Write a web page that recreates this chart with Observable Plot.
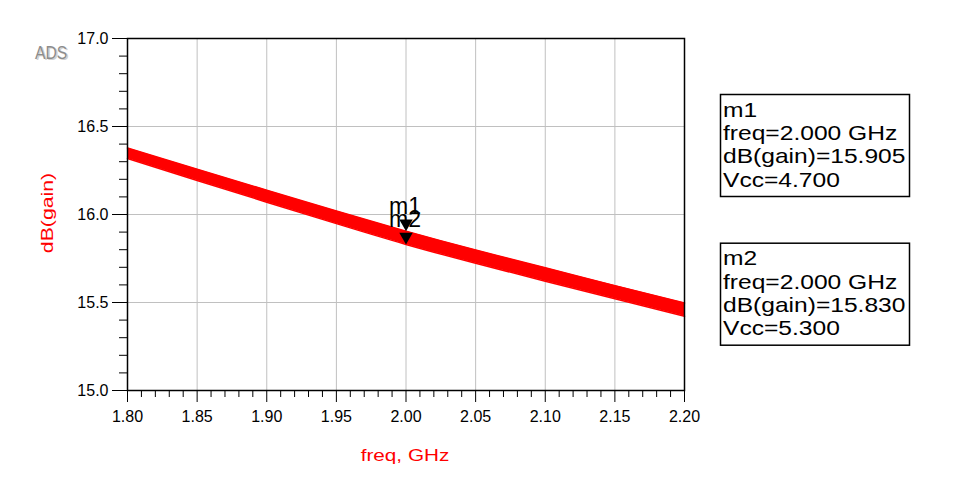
<!DOCTYPE html>
<html><head><meta charset="utf-8">
<script src="https://cdn.jsdelivr.net/npm/d3@7"></script>
<script src="https://cdn.jsdelivr.net/npm/@observablehq/plot@0.6"></script>
<style>body{margin:0;background:#fff}#chart svg{display:block}</style>
</head><body><div id="chart"></div>
<script>
// ---- data ----
const freqs      = [1.80, 1.85, 1.90, 1.95, 2.00, 2.05, 2.10, 2.15, 2.20];
const gainVcc47  = [16.378, 16.257, 16.138, 16.020, 15.905, 15.798, 15.697, 15.596, 15.497];
const gainVcc53  = [16.318, 16.193, 16.070, 15.948, 15.830, 15.723, 15.621, 15.521, 15.422];
const xMajorTicks = [1.80, 1.85, 1.90, 1.95, 2.00, 2.05, 2.10, 2.15, 2.20];
const yMajorTicks = [15.0, 15.5, 16.0, 16.5, 17.0];
const markerNames = ["m1", "m2"];
const markerFreq  = [2.000, 2.000];
const markerGain  = [15.905, 15.830];
const markerVcc   = [4.700, 5.300];

const band = freqs.map((f, i) => ({freq: f, top: gainVcc47[i], bottom: gainVcc53[i]}));
const markers = markerNames.map((n, i) => ({name: n, freq: markerFreq[i], gain: markerGain[i], vcc: markerVcc[i]}));
const xMinor = d3.range(180, 221).filter(v => v % 5 !== 0).map(v => v / 100);
const yMinor = d3.range(150, 171).filter(v => v % 5 !== 0).map(v => v / 10);

const FONT = "'Liberation Sans', Arial, sans-serif";
const RED = "#ff0000";

const chart = Plot.plot({
  width: 962, height: 488,
  marginLeft: 127, marginRight: 278, marginTop: 38, marginBottom: 98,
  style: {fontFamily: FONT, color: "#000", background: "#fff"},
  x: {domain: [1.8, 2.2], label: null},
  y: {domain: [15, 17], label: null},
  marks: [
    Plot.gridX(xMajorTicks, {stroke: "#c0c0c0", strokeOpacity: 1}),
    Plot.gridY(yMajorTicks, {stroke: "#c0c0c0", strokeOpacity: 1}),
    Plot.areaY(band, {x: "freq", y1: "bottom", y2: "top", fill: RED, curve: "natural"}),
    Plot.line(band, {x: "freq", y: "top", stroke: RED, strokeWidth: 1.5, curve: "natural"}),
    Plot.line(band, {x: "freq", y: "bottom", stroke: RED, strokeWidth: 1.5, curve: "natural"}),
    Plot.frame({stroke: "#000", strokeWidth: 1.5}),
    Plot.axisX(xMajorTicks, {tickSize: 12, tickPadding: 8, tickFormat: d3.format(".2f"), label: null, fontSize: 16}),
    Plot.axisX(xMinor, {tickSize: 7, tickFormat: () => "", label: null}),
    Plot.axisY(yMajorTicks, {tickSize: 15, tickPadding: 4, tickFormat: d3.format(".1f"), label: null, fontSize: 16}),
    Plot.axisY(yMinor, {tickSize: 8, tickFormat: () => "", label: null}),
    Plot.dot(markers, {x: "freq", y: "gain", symbol: "triangle", r: 5, fill: "#000", stroke: null, rotate: 180, dy: -7.8}),
    Plot.text(markers, {x: "freq", y: "gain", text: "name", textAnchor: "start", lineAnchor: "bottom",
      dx: -17, dy: -17, fontSize: 23, fill: "#000"})
  ]
});
document.getElementById("chart").appendChild(chart);

const svg = d3.select(chart);
svg.selectAll('g[aria-label="x-axis tick label"] text, g[aria-label="y-axis tick label"] text')
  .style("font-size", "16px");
svg.selectAll('g[aria-label="text"] text').style("font-size", "23px");

// ---- annotations: ADS logo, axis labels, marker readouts ----
const g = svg.append("g").attr("font-family", FONT).attr("text-anchor", "start");

g.append("text").attr("transform", "translate(36.5,59.5) scale(0.87,1)")
  .attr("font-size", 18).attr("fill", "#d0d0d0").text("ADS");
g.append("text").attr("transform", "translate(35,58.5) scale(0.87,1)")
  .attr("font-size", 18).attr("fill", "#8c8c8c").text("ADS");

g.append("text").attr("transform", "translate(47,213) rotate(-90) scale(1.25,1)")
  .attr("text-anchor", "middle").attr("dy", "0.35em")
  .attr("font-size", 17).attr("fill", RED).text("dB(gain)");

g.append("text").attr("transform", "translate(405,461) scale(1.22,1)")
  .attr("text-anchor", "middle")
  .attr("font-size", 17).attr("fill", RED).text("freq, GHz");

markers.forEach((m, i) => {
  const top = 94 + i * 148.7;
  g.append("rect").attr("x", 720.5).attr("y", top + 0.5).attr("width", 189).attr("height", 102)
    .attr("fill", "none").attr("stroke", "#000").attr("stroke-width", 1.5);
  const lines = [
    m.name,
    `freq=${m.freq.toFixed(3)} GHz`,
    `dB(gain)=${m.gain.toFixed(3)}`,
    `Vcc=${m.vcc.toFixed(3)}`
  ];
  lines.forEach((t, j) => {
    g.append("text").attr("transform", `translate(723,${top + 22.7 + j * 23.3}) scale(1.2,1)`)
      .attr("text-anchor", "start")
      .attr("font-size", 20.5).attr("fill", "#000").text(t);
  });
});
</script>
</body></html>
